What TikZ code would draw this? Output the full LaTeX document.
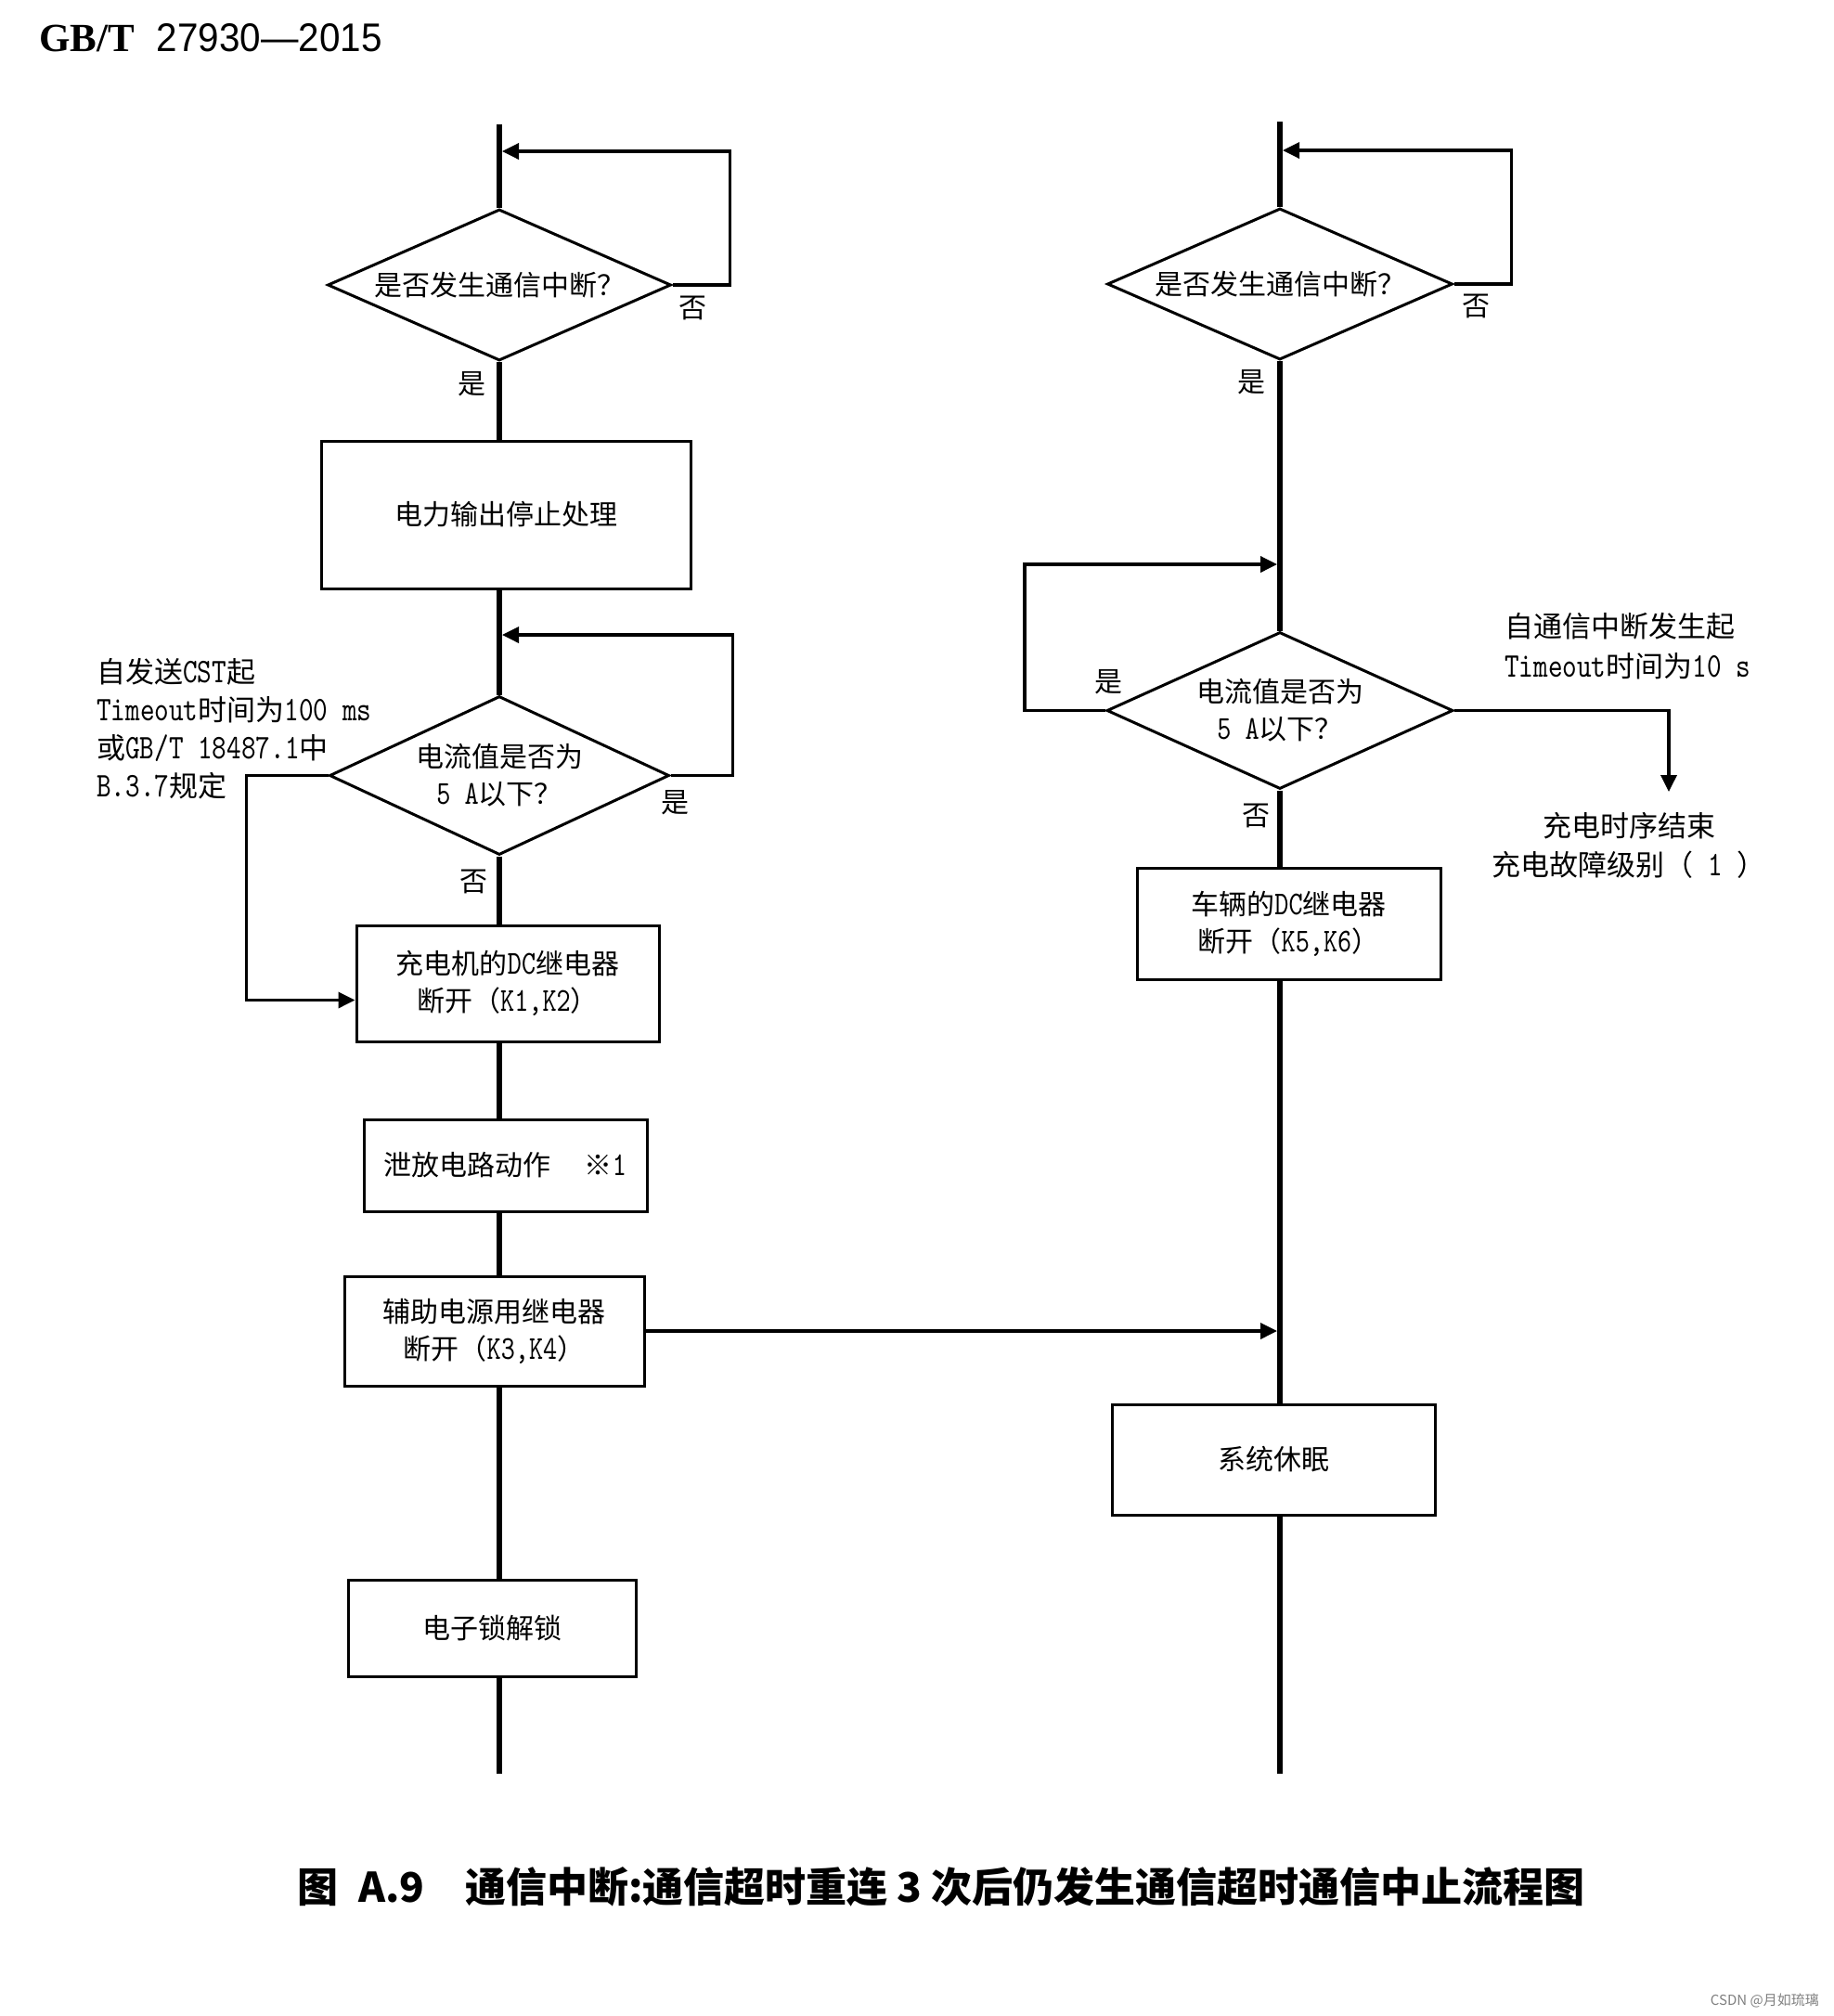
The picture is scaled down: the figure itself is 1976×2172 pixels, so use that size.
\documentclass[tikz,border=0pt]{standalone}
\usepackage{fontspec}
\setmainfont{Noto Sans CJK SC}
\newfontfamily\serifb{Liberation Serif}
\newfontfamily\sansl{Liberation Sans}[FakeStretch=0.94]
\newfontfamily\latf{lmmono10-regular.otf}[Scale=1.2,FakeStretch=0.8]
\usetikzlibrary{shapes.geometric,arrows.meta,calc}
\newcommand\lat[1]{{\latf #1}}
\begin{document}
\begin{tikzpicture}[x=1pt,y=-1pt,
  trunk/.style={line width=5.5pt},
  lp/.style={line width=3.5pt},
  arr/.style={-{Triangle[length=18pt,width=17pt]}},
  bx/.style={draw,rectangle,line width=3pt,inner sep=0pt,align=center,font=\fontsize{30}{40}\selectfont},
  dia/.style={draw,diamond,line width=3pt,inner sep=0pt,align=center,font=\fontsize{30}{40}\selectfont},
  lbl/.style={font=\fontsize{30}{36}\selectfont,inner sep=0pt},
  ann/.style={font=\fontsize{31}{41}\selectfont,inner sep=0pt}
]
\fill[white] (0,0) rectangle (1976,2172);
\useasboundingbox (0,0) rectangle (1976,2172);

% header
\node[anchor=base west, inner sep=0pt, font=\fontsize{43}{43}\selectfont] (hdr) at (42,55)
  {{\serifb\bfseries GB/T}\hspace{24pt}{\sansl 27930—2015}};

% column references
\coordinate (colL) at (538,0);
\coordinate (colR) at (1379,0);
\coordinate (topL) at (538,134);
\coordinate (botL) at (538,1911);
\coordinate (topR) at (1379,131);
\coordinate (botR) at (1379,1911);
\coordinate (jL1) at (541,163);
\coordinate (jL2) at (541,684);
\coordinate (jR1) at (1382,162);
\coordinate (jR2) at (1376,608);
\coordinate (jR3) at (1376,0);
\coordinate (endR) at (1798,853);

% left column nodes
\node[dia, minimum width=370pt, minimum height=163pt, aspect=2.27] (d1) at (538,307) {是否发生通信中断？};
\node[bx, minimum width=398pt, minimum height=159pt] (b1) at (545,554.5) {电力输出停止处理};
\node[dia, minimum width=366pt, minimum height=171pt, aspect=2.14] (d2) at (538,835.5) {电流值是否为\\\lat{5 A}以下？};
\node[bx, minimum width=326pt, minimum height=125pt] (b2) at (547,1059.5) {充电机的\lat{DC}继电器\\断开（\lat{K1,K2}）};
\node[bx, minimum width=305pt, minimum height=99pt] (b3) at (544.5,1255.5) {泄放电路动作\hspace{1.2em}※\lat{1}};
\node[bx, minimum width=323pt, minimum height=118pt] (b4) at (532.5,1434) {辅助电源用继电器\\断开（\lat{K3,K4}）};
\node[bx, minimum width=310pt, minimum height=104pt] (b5) at (530,1754) {电子锁解锁};

% right column nodes
\node[dia, minimum width=372pt, minimum height=163pt, aspect=2.28] (d3) at (1379,306) {是否发生通信中断？};
\node[dia, minimum width=373pt, minimum height=169pt, aspect=2.2] (d4) at (1379,765.5) {电流值是否为\\\lat{5 A}以下？};
\node[bx, minimum width=327pt, minimum height=120pt] (b6) at (1388.5,995) {车辆的\lat{DC}继电器\\断开（\lat{K5,K6}）};
\node[bx, minimum width=348pt, minimum height=119pt] (b7) at (1372,1572.5) {系统休眠};

% trunk lines left
\draw[trunk] (topL) -- (d1.north);
\draw[trunk] (d1.south) -- (b1.north -| colL);
\draw[trunk] (b1.south -| colL) -- (d2.north);
\draw[trunk] (d2.south) -- (b2.north -| colL);
\draw[trunk] (b2.south -| colL) -- (b3.north -| colL);
\draw[trunk] (b3.south -| colL) -- (b4.north -| colL);
\draw[trunk] (b4.south -| colL) -- (b5.north -| colL);
\draw[trunk] (b5.south -| colL) -- (botL);

% trunk lines right
\draw[trunk] (topR) -- (d3.north);
\draw[trunk] (d3.south) -- (d4.north);
\draw[trunk] (d4.south) -- (b6.north -| colR);
\draw[trunk] (b6.south -| colR) -- (b7.north -| colR);
\draw[trunk] (b7.south -| colR) -- (botR);

% loops and branches
\draw[lp,arr] (d1.east) -- ++(62,0) |- (jL1);
\draw[lp,arr] (d2.east) -- ++(67,0) |- (jL2);
\draw[lp,arr] (d2.west) -- ++(-88,0) |- ($(b2.west)+(0,18)$);
\draw[lp,arr] (d3.east) -- ++(62,0) |- (jR1);
\draw[lp,arr] (d4.west) -- ++(-87,0) |- (jR2);
\draw[lp,arr] (d4.east) -| (endR);
\draw[lp,arr] (b4.east) -- (b4.east -| jR3);

% branch labels
\node[lbl] (n1) at (746,332) {否};
\node[lbl] (y1) at (508,414) {是};
\node[lbl] (y2) at (727,865) {是};
\node[lbl] (n2) at (510,950) {否};
\node[lbl] (n3) at (1590,330) {否};
\node[lbl] (y3) at (1348,412) {是};
\node[lbl] (y4) at (1194,735) {是};
\node[lbl] (n4) at (1353,879) {否};

% annotations
\node[ann, anchor=west, align=left] (aL) at (104,785)
  {自发送\lat{CST}起\\\lat{Timeout}时间为\lat{100 ms}\\或\lat{GB/T 18487.1}中\\\lat{B.3.7}规定};
\node[ann, anchor=west, align=left, font=\fontsize{31}{43}\selectfont] (aR) at (1621,696)
  {自通信中断发生起\\\lat{Timeout}时间为\lat{10 s}};
\node[ann, align=center, font=\fontsize{31}{42}\selectfont] (eR) at (1755,911)
  {充电时序结束\\充电故障级别（\lat{ 1 }）};

% caption
\node[inner sep=0pt, font=\fontsize{44}{44}\selectfont\bfseries] (cap) at (1014,2033)
  {图\hspace{0.5em}A.9\hspace{1em}通信中断:通信超时重连 3 次后仍发生通信超时通信中止流程图};

% watermark
\node[anchor=east, inner sep=0pt, font=\fontsize{15}{15}\selectfont, text=black!50] (wm) at (1960,2155) {CSDN @月如琉璃};
\end{tikzpicture}
\end{document}
